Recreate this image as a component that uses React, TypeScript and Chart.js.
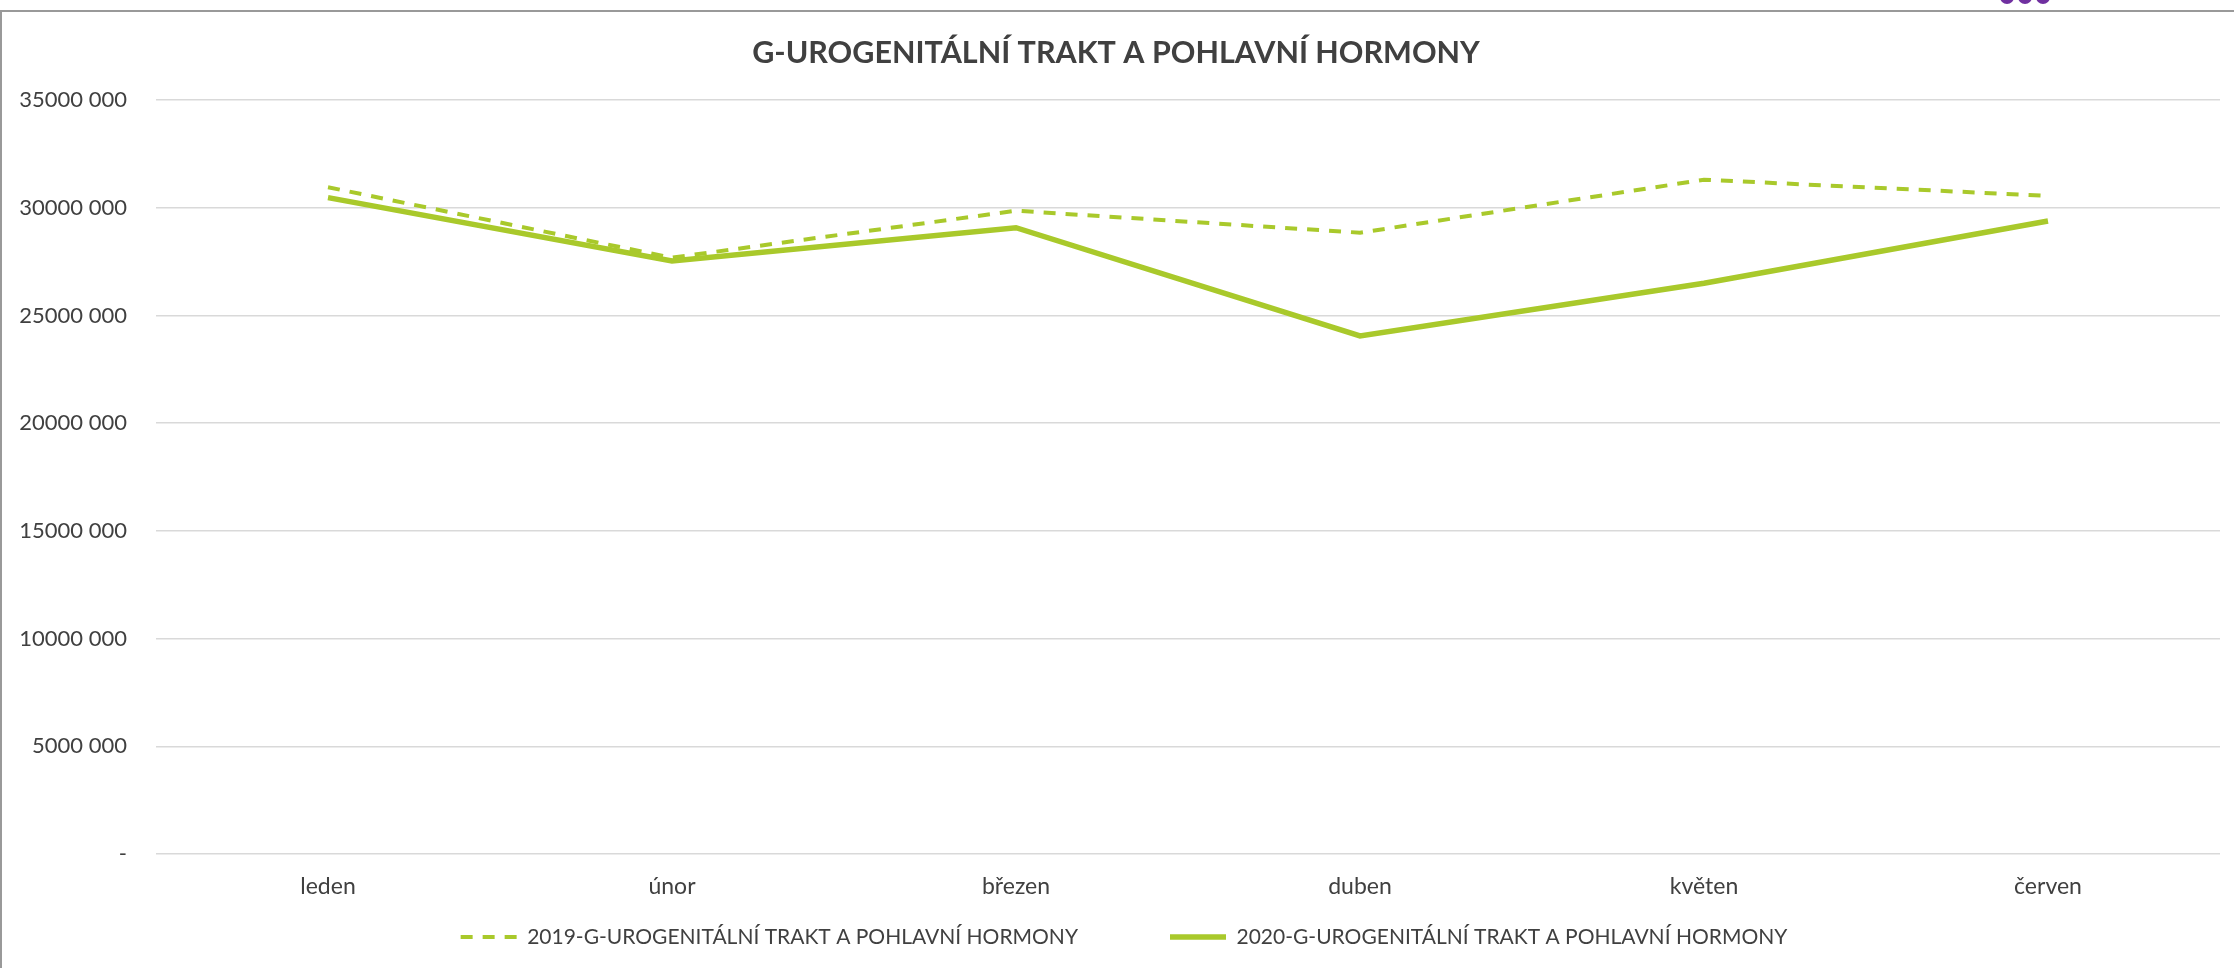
import React, { useEffect, useRef } from "react";
import { Chart, registerables } from "chart.js";

Chart.register(...registerables);

const TITLE = "G-UROGENITÁLNÍ TRAKT A POHLAVNÍ HORMONY";
const months = ["leden", "únor", "březen", "duben", "květen", "červen"];
const label2019 = "2019-G-UROGENITÁLNÍ TRAKT A POHLAVNÍ HORMONY";
const label2020 = "2020-G-UROGENITÁLNÍ TRAKT A POHLAVNÍ HORMONY";
const values2019 = [30950000, 27680000, 29860000, 28840000, 31300000, 30550000];
const values2020 = [30470000, 27530000, 29070000, 24050000, 26490000, 29380000];
const yTickLabels = ["-", "5000 000", "10000 000", "15000 000", "20000 000", "25000 000", "30000 000", "35000 000"];

const LINE_COLOR = "#a9c92b";
const TEXT_COLOR = "#404040";
const FONT = "Lato, 'Open Sans', sans-serif";

// Vertically centre the single legend row inside the legend box
// (labels.padding is used for the wide horizontal gap between items),
// and nudge it slightly right like the original.
const centerLegendRow = {
  id: "centerLegendRow",
  afterLayout(chart: any) {
    const lg = chart.legend;
    if (!lg) return;
    const pad = lg.options.labels.padding;
    const fs = lg.options.labels.font.size;
    const shift = (lg.height - fs) / 2 - pad;
    lg.top += shift;
    lg.left += 8;
    lg.right += 8;
  },
};

export default function App() {
  const ref = useRef<HTMLCanvasElement>(null);
  useEffect(() => {
    if (!ref.current) return;
    const chart = new Chart(ref.current, {
      type: "line",
      data: {
        labels: months,
        datasets: [
          {
            label: label2019,
            data: values2019,
            borderColor: LINE_COLOR,
            backgroundColor: LINE_COLOR,
            borderWidth: 4,
            borderDash: [12, 10],
            pointRadius: 0,
            tension: 0,
            fill: false,
          },
          {
            label: label2020,
            data: values2020,
            borderColor: LINE_COLOR,
            backgroundColor: LINE_COLOR,
            borderWidth: 5.5,
            pointRadius: 0,
            tension: 0,
            fill: false,
          },
        ],
      },
      options: {
        animation: false,
        responsive: false,
        maintainAspectRatio: false,
        layout: { padding: { left: 12, right: 14, top: 0, bottom: 13.8 } },
        plugins: {
          title: {
            display: true,
            text: TITLE,
            color: TEXT_COLOR,
            font: { family: FONT, size: 30.5, weight: "bold" },
            padding: { top: 35, bottom: 28.4 },
          },
          legend: {
            display: true,
            position: "bottom",
            maxHeight: 34.6,
            labels: {
              usePointStyle: true,
              pointStyle: "line",
              pointStyleWidth: 56,
              padding: 92,
              color: TEXT_COLOR,
              font: { family: FONT, size: 21 },
              generateLabels: (c: any) => {
                const items = Chart.defaults.plugins.legend.labels.generateLabels(c);
                items.forEach((it: any) => {
                  const ds: any = c.data.datasets[it.datasetIndex];
                  it.lineDash = ds.borderDash || [];
                  it.lineWidth = ds.borderWidth;
                  it.strokeStyle = ds.borderColor;
                  it.fillStyle = ds.borderColor;
                  it.lineCap = "butt";
                });
                return items;
              },
            },
          },
          tooltip: { enabled: false },
        },
        scales: {
          x: {
            offset: true,
            grid: { display: false, drawTicks: false },
            border: { display: false },
            ticks: {
              color: TEXT_COLOR,
              font: { family: FONT, size: 23 },
              padding: 19,
              maxRotation: 0,
            },
          },
          y: {
            min: 0,
            max: 35000000,
            afterFit: (s: any) => {
              s.width = 144;
            },
            grid: { color: "#d9d9d9", lineWidth: 1.5, drawTicks: false },
            border: { display: false },
            ticks: {
              stepSize: 5000000,
              padding: 29,
              color: TEXT_COLOR,
              font: { family: FONT, size: 22 },
              callback: (_v: any, i: number) => yTickLabels[i],
            },
          },
        },
      },
      plugins: [centerLegendRow],
    });
    return () => chart.destroy();
  }, []);

  return (
    <div style={{ position: "fixed", left: 0, top: 0, width: 2234, height: 968, background: "#fff", overflow: "hidden" }}>
      <canvas ref={ref} width={2234} height={968} style={{ position: "absolute", left: 0, top: 0, width: 2234, height: 968 }} />
      <div
        style={{
          position: "absolute",
          left: 0,
          top: 10,
          width: 2300,
          height: 1000,
          borderLeft: "2px solid #999",
          borderTop: "2px solid #999",
          pointerEvents: "none",
        }}
      />
      <div style={{ position: "absolute", left: 2000, top: -10, display: "flex", gap: 4 }}>
        {[0, 1, 2].map((i) => (
          <div key={i} style={{ width: 14, height: 14, borderRadius: 7, background: "#7030a0" }} />
        ))}
      </div>
    </div>
  );
}
